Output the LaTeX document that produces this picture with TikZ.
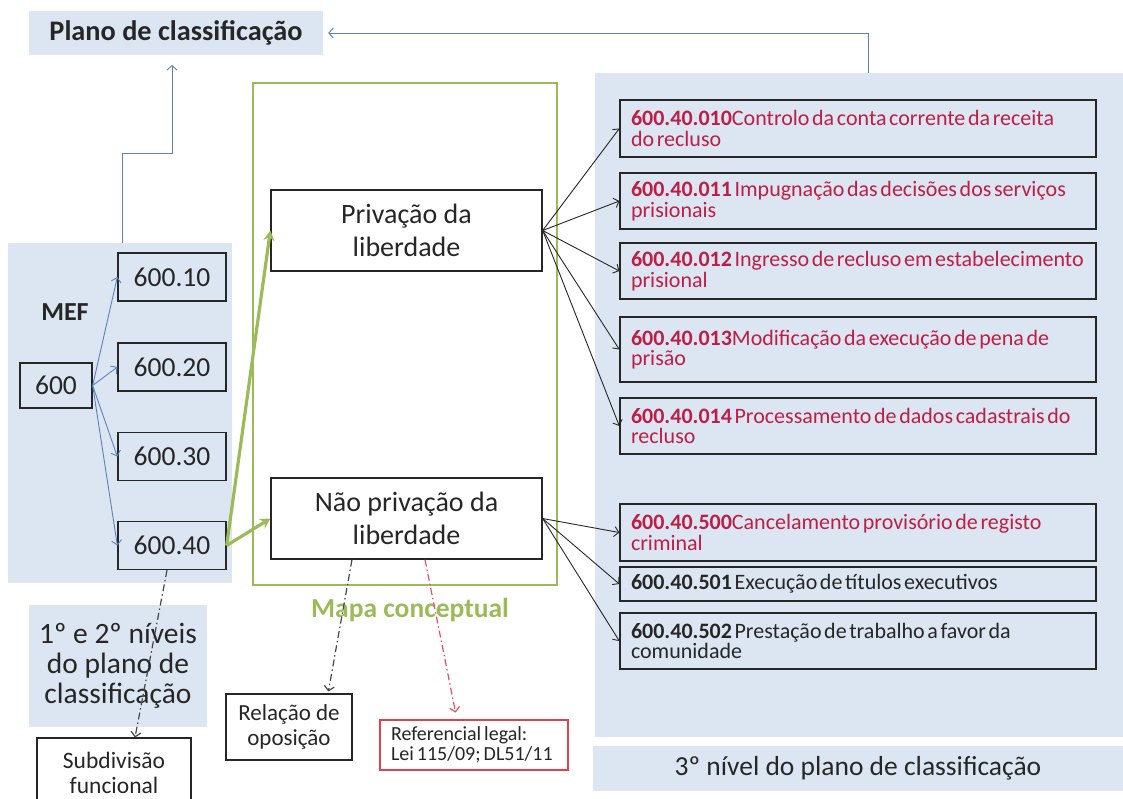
\documentclass[tikz,border=0pt]{standalone}
\usepackage{fontspec}
\setmainfont{Carlito}
\usetikzlibrary{arrows.meta}
\definecolor{panel}{HTML}{DCE6F2}
\definecolor{bluel}{HTML}{5B82BA}
\definecolor{greenl}{HTML}{9BBB59}
\definecolor{redc}{HTML}{BE1E45}
\definecolor{ink}{HTML}{262626}
\definecolor{redb}{HTML}{E0404F}
\definecolor{reda}{HTML}{E8506A}
\newcommand{\tsp}{\spaceskip=0.12em\relax\xspaceskip=0.12em\relax\hyphenpenalty=10000\relax}
\newcommand{\tspr}{\spaceskip=0.15em\relax\xspaceskip=0.15em\relax\hyphenpenalty=10000\relax}
\begin{document}
\begin{tikzpicture}[x=1pt,y=-1pt,
  sz/.style 2 args={minimum width=#1, minimum height=#2},
  panelbox/.style={fill=panel, draw=none, inner sep=0pt, text=ink},
  kbox/.style={draw=ink, line width=1.3pt, inner sep=0pt, text=ink, font=\fontsize{27.5}{30}\selectfont},
  mbox/.style={draw=ink, line width=1.3pt, fill=white, inner sep=0pt, text=ink, align=center, font=\fontsize{28}{33}\selectfont},
  rbox/.style={draw=ink, line width=1.3pt, inner xsep=11pt, inner ysep=0pt, text width=454pt, align=left, minimum width=476pt, text=redc, font=\fontsize{22}{20.5}\selectfont},
  sbox/.style={draw=ink, line width=1.1pt, fill=white, inner sep=0pt, text=ink, align=center, font=\fontsize{23.5}{24.5}\selectfont},
  bluearr/.style={draw=bluel, line width=0.9pt, -{Straight Barb[length=4.5pt,width=10pt]}},
  greenarr/.style={draw=greenl, line width=3.2pt, -{Stealth[length=10pt,width=11pt]}},
  blkarr/.style={draw=ink, line width=0.9pt, -{Straight Barb[length=4.5pt,width=10pt]}},
  dasharr/.style={line width=1.2pt, dash pattern=on 7pt off 3pt on 1.5pt off 3pt, -{Straight Barb[length=4.5pt,width=10pt]}}
]
\useasboundingbox (0,0) rectangle (1123,798);

% title
\node[panelbox, sz={294}{44}, font=\fontsize{28.3}{30}\selectfont\bfseries] (title) at (176,33) {Plano de classificação};

% left panel
\node[panelbox, sz={224}{340}] (mef) at (120,413) {};
\node[text=ink, font=\fontsize{26}{30}\selectfont\bfseries] (meflbl) at (65,312) {MEF};
\node[kbox, sz={72}{45}] (p600) at (56,385.5) {600};
\node[kbox, sz={108}{48}] (p10) at (172,277) {600.10};
\node[kbox, sz={108}{48}] (p20) at (172,367) {600.20};
\node[kbox, sz={108}{48}] (p30) at (172,456.5) {600.30};
\node[kbox, sz={108}{48}] (p40) at (172,545.5) {600.40};

% green frame
\node[draw=greenl, line width=2.5pt, sz={304}{502}, inner sep=0pt] (frame) at (405,334) {};
\node[text=greenl, font=\fontsize{27.5}{30}\selectfont\bfseries] (maplbl) at (410,610) {Mapa conceptual};
\node[mbox, sz={271}{81}] (priv) at (406.5,230.5) {Privação da\\liberdade};
\node[mbox, sz={271}{81}] (nao) at (406.5,518.5) {Não privação da\\liberdade};

% right panel
\node[panelbox, sz={528}{664}] (rpanel) at (859,405) {};
\node[panelbox, sz={530}{45}, font=\fontsize{27.5}{30}\selectfont] (rlbl) at (858,768.5) {3º nível do plano de classificação};

\node[rbox, minimum height=57pt] (r1) at (858,128.5) {\tsp\textbf{600.40.010}Controlo da conta corrente da receita\\do recluso};
\node[rbox, minimum height=56pt] (r2) at (858,201) {\tsp\textbf{600.40.011} Impugnação das decisões dos serviços\\prisionais};
\node[rbox, minimum height=56pt] (r3) at (858,271) {\tsp\textbf{600.40.012} Ingresso de recluso em estabelecimento\\prisional};
\node[rbox, minimum height=65pt] (r4) at (858,349.5) {\tsp\textbf{600.40.013}Modificação da execução de pena de\\prisão};
\node[rbox, minimum height=56pt] (r5) at (858,426) {\tsp\textbf{600.40.014} Processamento de dados cadastrais do\\recluso};
\node[rbox, minimum height=57pt] (r6) at (858,532.5) {\tsp\textbf{600.40.500}Cancelamento provisório de registo\\criminal};
\node[rbox, minimum height=34pt, text=ink] (r7) at (858,584) {\tsp\textbf{600.40.501} Execução de títulos executivos};
\node[rbox, minimum height=56pt, text=ink] (r8) at (858,641) {\tsp\textbf{600.40.502} Prestação de trabalho a favor da\\comunidade};

% bottom left
\node[panelbox, sz={178}{122}, align=center, font=\fontsize{29.5}{30}\selectfont] (lvl) at (118,666) {1º e 2º níveis\\do plano de\\classificação};
\node[sbox, sz={154}{70}] (sub) at (114,773) {Subdivisão\\funcional};
\node[sbox, sz={126}{66}, font=\fontsize{23}{24.5}\selectfont] (rel) at (289,727) {Relação de\\oposição};
\node[draw=redb, line width=1.1pt, fill=white, sz={188}{50}, inner xsep=11pt, inner ysep=0pt, text width=166pt, align=left, text=ink, font=\fontsize{20}{20}\selectfont] (ref) at (474,745) {\tspr Referencial legal:\\Lei 115/09; DL51/11};

% connectors
\coordinate (a1) at (122,153);
\coordinate (a2) at (172,153);
\coordinate (a3) at (172,65);
\draw[bluearr] (mef.north -| a1) -- (a1) -- (a2) -- (a3);
\coordinate (b1) at (868,33);
\draw[bluearr, shorten >=5pt] (rpanel.north -| b1) -- (b1) -- (title.east);

\foreach \t in {p10,p20,p30,p40} \draw[bluearr] (p600.east) -- (\t.west);
\draw[greenarr] (p40.east) -- (priv.west);
\draw[greenarr] (p40.east) -- (nao.west);
\foreach \t in {r1,r2,r3,r4,r5} \draw[blkarr] (priv.east) -- (\t.west);
\foreach \t in {r6,r7,r8} \draw[blkarr] (nao.east) -- (\t.west);

\draw[dasharr, draw=ink!85] ([xshift=-5pt]p40.south) -- ([xshift=21pt]sub.north);
\draw[dasharr, draw=ink!85, shorten >=2pt] ([xshift=-54.5pt]nao.south) -- ([xshift=39pt]rel.north);
\draw[dasharr, draw=reda, shorten >=7pt] ([xshift=18.5pt]nao.south) -- ([xshift=-17pt]ref.north);
\end{tikzpicture}
\end{document}
